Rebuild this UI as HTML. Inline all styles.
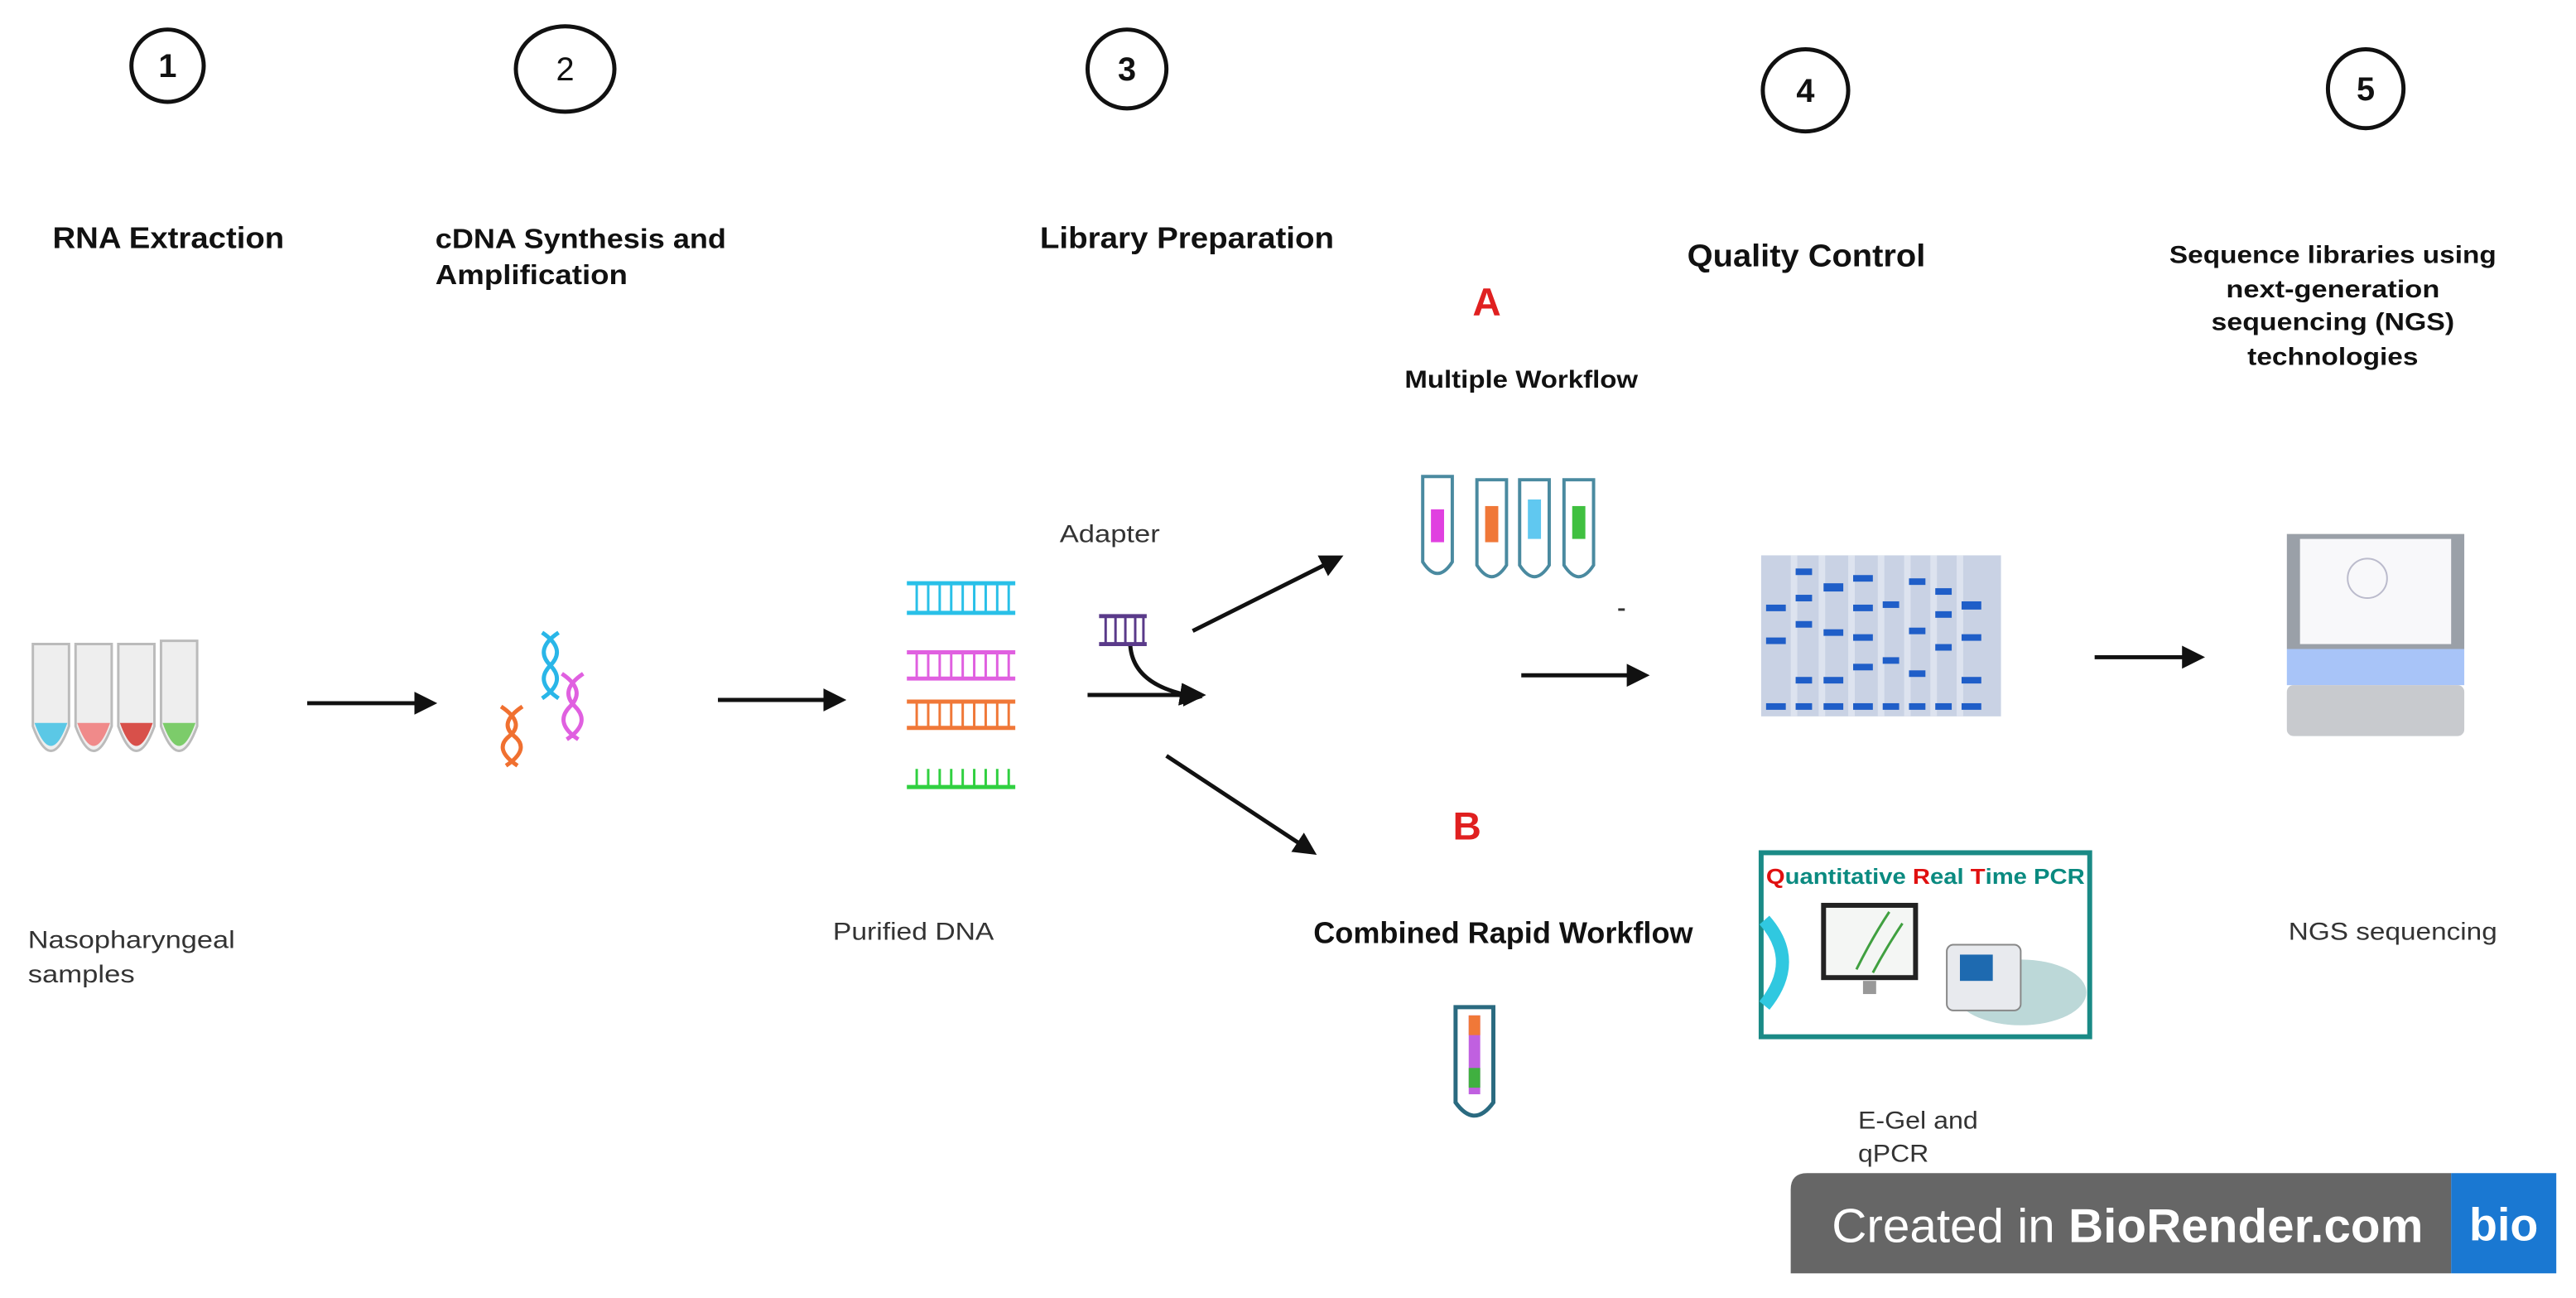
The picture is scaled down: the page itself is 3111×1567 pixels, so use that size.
<!DOCTYPE html>
<html><head><meta charset="utf-8"><style>
html,body{margin:0;padding:0;background:#fff;}
svg{display:block;}
text{font-family:"Liberation Sans",sans-serif;}
</style></head><body>
<svg width="3111" height="1567" viewBox="0 0 1568 790" preserveAspectRatio="none" xmlns="http://www.w3.org/2000/svg">
<defs>
<marker id="ah2" viewBox="0 0 10 10" markerWidth="14" markerHeight="14" refX="7" refY="5" orient="auto" markerUnits="userSpaceOnUse"><path d="M0,0 L10,5 L0,10 z" fill="#111"/></marker>
</defs>
<!-- step circles -->
<g fill="none" stroke="#111" stroke-width="2.5">
<ellipse cx="102" cy="40" rx="22" ry="22"/>
<ellipse cx="344" cy="42" rx="30" ry="26"/>
<ellipse cx="686" cy="42" rx="24" ry="24"/>
<ellipse cx="1099" cy="55" rx="26" ry="25"/>
<ellipse cx="1440" cy="54" rx="23" ry="24"/>
</g>
<g font-weight="bold" font-size="20" text-anchor="middle" fill="#111">
<text x="102" y="47">1</text>
<text x="344" y="49" font-weight="normal">2</text>
<text x="686" y="49">3</text>
<text x="1099" y="62">4</text>
<text x="1440" y="61">5</text>
</g>
<!-- titles -->
<g font-weight="bold" fill="#111" lengthAdjust="spacingAndGlyphs">
<text x="32" y="151" font-size="18" textLength="141" lengthAdjust="spacingAndGlyphs">RNA Extraction</text>
<text x="265" y="151" font-size="17" textLength="177" lengthAdjust="spacingAndGlyphs">cDNA Synthesis and</text>
<text x="265" y="173" font-size="17" textLength="117" lengthAdjust="spacingAndGlyphs">Amplification</text>
<text x="633" y="151" font-size="18" textLength="179" lengthAdjust="spacingAndGlyphs">Library Preparation</text>
<text x="1027" y="162" font-size="19" textLength="145" lengthAdjust="spacingAndGlyphs">Quality Control</text>
<g font-size="15" text-anchor="middle">
<text x="1420" y="160" textLength="199" lengthAdjust="spacingAndGlyphs">Sequence libraries using</text>
<text x="1420" y="181" textLength="130" lengthAdjust="spacingAndGlyphs">next-generation</text>
<text x="1420" y="201" textLength="148" lengthAdjust="spacingAndGlyphs">sequencing (NGS)</text>
<text x="1420" y="222" textLength="104" lengthAdjust="spacingAndGlyphs">technologies</text>
</g>
<text x="926" y="236" font-size="15" text-anchor="middle" textLength="142" lengthAdjust="spacingAndGlyphs">Multiple Workflow</text>
<text x="915" y="574" font-size="18" text-anchor="middle" textLength="231" lengthAdjust="spacingAndGlyphs">Combined Rapid Workflow</text>
</g>
<text x="905" y="192" font-size="24" font-weight="bold" fill="#e02020" text-anchor="middle">A</text>
<text x="893" y="511" font-size="24" font-weight="bold" fill="#e02020" text-anchor="middle">B</text>
<g fill="#333" font-size="15">
<text x="645" y="330" textLength="61" lengthAdjust="spacingAndGlyphs">Adapter</text>
<text x="17" y="577" textLength="126" lengthAdjust="spacingAndGlyphs">Nasopharyngeal</text>
<text x="17" y="598" textLength="65" lengthAdjust="spacingAndGlyphs">samples</text>
<text x="507" y="572" textLength="98" lengthAdjust="spacingAndGlyphs">Purified DNA</text>
<text x="1393" y="572" textLength="127" lengthAdjust="spacingAndGlyphs">NGS sequencing</text>
<text x="1131" y="687" textLength="73" lengthAdjust="spacingAndGlyphs">E-Gel and</text>
<text x="1131" y="707" textLength="43" lengthAdjust="spacingAndGlyphs">qPCR</text>
</g>
<!-- left tubes -->
<g>
<g stroke="#bbb" stroke-width="1.5" fill="#eee">
<path d="M20,392 h22 v50 q-11,30 -22,0 z"/>
<path d="M46,392 h22 v50 q-11,30 -22,0 z"/>
<path d="M72,392 h22 v50 q-11,30 -22,0 z"/>
<path d="M98,390 h22 v52 q-11,30 -22,0 z"/>
</g>
<path d="M21,440 h20 q-10,28 -20,0z" fill="#5bc8e6"/>
<path d="M47,440 h20 q-10,28 -20,0z" fill="#f08a8a"/>
<path d="M73,440 h20 q-10,28 -20,0z" fill="#d8504a"/>
<path d="M99,440 h20 q-10,28 -20,0z" fill="#7ccc6a"/>
</g>
<!-- arrows -->
<g stroke="#111" stroke-width="2.5" fill="none" marker-end="url(#ah2)">
<line x1="187" y1="428" x2="262" y2="428"/>
<line x1="437" y1="426" x2="511" y2="426"/>
<line x1="662" y1="423" x2="730" y2="423"/>
<path d="M688,393 Q690,418 728,424"/>
<line x1="726" y1="384" x2="814" y2="340"/>
<line x1="710" y1="460" x2="798" y2="518"/>
<line x1="926" y1="411" x2="1000" y2="411"/>
<line x1="1275" y1="400" x2="1338" y2="400"/>
</g>
<!-- DNA helix -->
<g fill="none" stroke-width="2.5">
<path d="M330,385 q15,10 5,20 q-10,10 5,20 M340,385 q-15,10 -5,20 q10,10 -5,20" stroke="#29b6e8"/>
<path d="M305,430 q15,10 5,18 q-10,8 5,18 M318,430 q-15,10 -5,18 q10,8 -5,18" stroke="#f07030"/>
<path d="M342,410 q15,10 5,20 q-10,10 5,20 M355,410 q-15,10 -5,20 q10,10 -5,20" stroke="#e060e0"/>
</g>
<!-- purified DNA ladders -->
<g stroke-width="2.5">
<g stroke="#29c0e8"><line x1="552" y1="355" x2="618" y2="355"/><line x1="552" y1="373" x2="618" y2="373"/><path d="M558,355v18M565,355v18M572,355v18M579,355v18M586,355v18M593,355v18M600,355v18M607,355v18M614,355v18" stroke-width="1.5"/></g>
<g stroke="#e060e0"><line x1="552" y1="397" x2="618" y2="397"/><line x1="552" y1="413" x2="618" y2="413"/><path d="M558,397v16M565,397v16M572,397v16M579,397v16M586,397v16M593,397v16M600,397v16M607,397v16M614,397v16" stroke-width="1.5"/></g>
<g stroke="#f07838"><line x1="552" y1="427" x2="618" y2="427"/><line x1="552" y1="443" x2="618" y2="443"/><path d="M558,427v16M565,427v16M572,427v16M579,427v16M586,427v16M593,427v16M600,427v16M607,427v16M614,427v16" stroke-width="1.5"/></g>
<g stroke="#30d040"><line x1="552" y1="479" x2="618" y2="479"/><path d="M558,468v11M565,468v11M572,468v11M579,468v11M586,468v11M593,468v11M600,468v11M607,468v11M614,468v11" stroke-width="1.5"/></g>
<g stroke="#5a3a8a"><line x1="669" y1="375" x2="698" y2="375"/><line x1="669" y1="392" x2="698" y2="392"/><path d="M673,375v17M679,375v17M685,375v17M691,375v17M696,375v17" stroke-width="1.5"/></g>
</g>
<!-- multiple tubes -->
<g fill="#fff" stroke="#4a8aa0" stroke-width="2">
<path d="M866,290 h18 v52 q-9,14 -18,0 z"/>
<path d="M899,292 h18 v52 q-9,14 -18,0 z"/>
<path d="M925,292 h18 v52 q-9,14 -18,0 z"/>
<path d="M952,292 h18 v52 q-9,14 -18,0 z"/>
</g>
<rect x="871" y="310" width="8" height="20" fill="#e040e0"/>
<rect x="904" y="308" width="8" height="22" fill="#f07838"/>
<rect x="930" y="304" width="8" height="24" fill="#60c8f0"/>
<rect x="957" y="308" width="8" height="20" fill="#40c040"/>
<line x1="985" y1="371" x2="989" y2="371" stroke="#333" stroke-width="1.5"/>
<!-- single tube -->
<path d="M886,613 h23 v58 q-11.5,16 -23,0 z" fill="#fff" stroke="#2a6a80" stroke-width="2.5"/>
<rect x="894" y="618" width="7" height="48" fill="#c060e0"/>
<rect x="894" y="618" width="7" height="12" fill="#f07838"/>
<rect x="894" y="650" width="7" height="12" fill="#40b040"/>
<!-- gel -->
<rect x="1072" y="338" width="146" height="98" fill="#c9d2e4"/>
<g fill="#dde3ef">
<rect x="1090" y="338" width="4" height="98"/><rect x="1107" y="338" width="4" height="98"/><rect x="1125" y="338" width="4" height="98"/><rect x="1143" y="338" width="4" height="98"/><rect x="1159" y="338" width="4" height="98"/><rect x="1175" y="338" width="4" height="98"/><rect x="1191" y="338" width="4" height="98"/>
</g>
<g fill="#1f5ec8">
<rect x="1075" y="368" width="12" height="4"/><rect x="1075" y="388" width="12" height="4"/><rect x="1075" y="428" width="12" height="4"/>
<rect x="1093" y="346" width="10" height="4"/><rect x="1093" y="362" width="10" height="4"/><rect x="1093" y="378" width="10" height="4"/><rect x="1093" y="412" width="10" height="4"/><rect x="1093" y="428" width="10" height="4"/>
<rect x="1110" y="355" width="12" height="5"/><rect x="1110" y="383" width="12" height="4"/><rect x="1110" y="412" width="12" height="4"/><rect x="1110" y="428" width="12" height="4"/>
<rect x="1128" y="350" width="12" height="4"/><rect x="1128" y="368" width="12" height="4"/><rect x="1128" y="386" width="12" height="4"/><rect x="1128" y="404" width="12" height="4"/><rect x="1128" y="428" width="12" height="4"/>
<rect x="1146" y="366" width="10" height="4"/><rect x="1146" y="400" width="10" height="4"/><rect x="1146" y="428" width="10" height="4"/>
<rect x="1162" y="352" width="10" height="4"/><rect x="1162" y="382" width="10" height="4"/><rect x="1162" y="408" width="10" height="4"/><rect x="1162" y="428" width="10" height="4"/>
<rect x="1178" y="358" width="10" height="4"/><rect x="1178" y="372" width="10" height="4"/><rect x="1178" y="392" width="10" height="4"/><rect x="1178" y="428" width="10" height="4"/>
<rect x="1194" y="366" width="12" height="5"/><rect x="1194" y="386" width="12" height="4"/><rect x="1194" y="412" width="12" height="4"/><rect x="1194" y="428" width="12" height="4"/>
</g>
<!-- sequencer -->
<rect x="1392" y="325" width="108" height="70" fill="#9aa0a8"/>
<rect x="1400" y="328" width="92" height="64" fill="#f8f8fa"/>
<circle cx="1441" cy="352" r="12" fill="none" stroke="#bbc" stroke-width="1"/>
<rect x="1392" y="395" width="108" height="22" fill="#a8c4f8"/>
<rect x="1392" y="417" width="108" height="31" rx="4" fill="#c8cace"/>
<!-- qPCR box -->
<rect x="1072" y="519" width="200" height="112" fill="#fff" stroke="#1a8a86" stroke-width="3"/>
<text x="1075" y="538" font-size="13" font-weight="bold" fill="#0a8a80" textLength="194" lengthAdjust="spacingAndGlyphs"><tspan fill="#e01010">Q</tspan>uantitative <tspan fill="#e01010">R</tspan>eal <tspan fill="#e01010">T</tspan>ime PCR</text>
<path d="M1074,560 q22,25 0,52" fill="none" stroke="#30c8e0" stroke-width="8"/>
<rect x="1110" y="551" width="56" height="44" fill="#f4f6f4" stroke="#222" stroke-width="3"/>
<path d="M1130,590 q10,-20 20,-35 M1140,592 q8,-15 18,-30" stroke="#40a040" fill="none" stroke-width="1.5"/>
<rect x="1134" y="597" width="8" height="8" fill="#999"/>
<ellipse cx="1230" cy="604" rx="40" ry="20" fill="#bcd8d8"/>
<rect x="1185" y="575" width="45" height="40" rx="4" fill="#e8eaee" stroke="#888"/>
<rect x="1193" y="581" width="20" height="16" fill="#1e6ab0"/>
<!-- BioRender banner -->
<path d="M1100,714 H1492 V775 H1090 V724 Q1090,714 1100,714 Z" fill="#666"/>
<rect x="1492" y="714" width="64" height="61" fill="#1a78d2"/>
<text x="1115" y="756" font-size="29" fill="#fff" textLength="360" lengthAdjust="spacingAndGlyphs">Created in <tspan font-weight="bold">BioRender.com</tspan></text>
<text x="1524" y="755" font-size="28" font-weight="bold" fill="#fff" text-anchor="middle">bio</text>
</svg>
</body></html>
